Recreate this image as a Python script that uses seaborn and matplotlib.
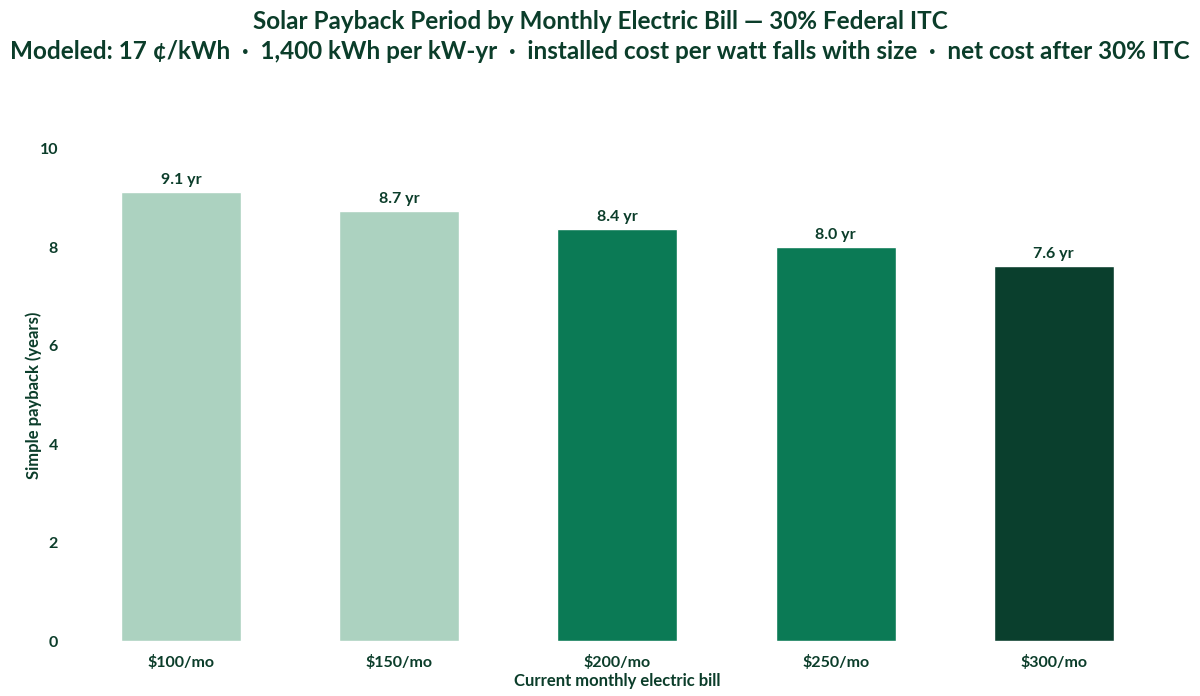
import matplotlib
matplotlib.use("Agg")
import matplotlib.pyplot as plt
import seaborn as sns
import pandas as pd

bills = ["$100/mo", "$150/mo", "$200/mo", "$250/mo", "$300/mo"]
payback = [9.12, 8.74, 8.37, 8.0, 7.63]
bar_colors = ["#acd2c0", "#acd2c0", "#0b7a55", "#0b7a55", "#0a3f2d"]

ink = "#0b3d2a"

sns.set_theme(style="white")
plt.rcParams["font.family"] = ["Lato", "DejaVu Sans"]

df = pd.DataFrame({"bill": bills, "payback": payback})

fig = plt.figure(figsize=(12, 6.96), dpi=100)
ax = fig.add_axes([0.06, 0.079, 0.909, 0.707])

sns.barplot(data=df, x="bill", y="payback", hue="bill", palette=bar_colors,
            legend=False, width=0.55, saturation=1, ax=ax)

for i, v in enumerate(payback):
    ax.text(i, v + 0.1, f"{v:.1f} yr", ha="center", va="bottom",
            fontsize=11.5, fontweight="bold", color=ink)

ax.set_ylim(0, 10)
ax.set_yticks([0, 2, 4, 6, 8, 10])
sns.despine(ax=ax, left=True, bottom=True)
ax.tick_params(axis="both", length=0, labelsize=11.5, colors=ink, pad=10)
for lab in ax.get_xticklabels() + ax.get_yticklabels():
    lab.set_fontweight("bold")
ax.set_xlabel("Current monthly electric bill", fontsize=12, fontweight="bold",
              color=ink, labelpad=2)
ax.set_ylabel("Simple payback (years)", fontsize=12, fontweight="bold",
              color=ink, labelpad=-2)

fig.text(0.5, 0.985, "Solar Payback Period by Monthly Electric Bill \u2014 30% Federal ITC",
         ha="center", va="top", fontsize=17.5, fontweight="bold", color=ink)
fig.text(0.5, 0.943,
         "Modeled: 17 \u00a2/kWh  \u00b7  1,400 kWh per kW-yr  \u00b7  installed cost per watt falls with size  \u00b7  net cost after 30% ITC",
         ha="center", va="top", fontsize=17.5, fontweight="bold", color=ink)

fig.savefig("out.png", dpi=100)
